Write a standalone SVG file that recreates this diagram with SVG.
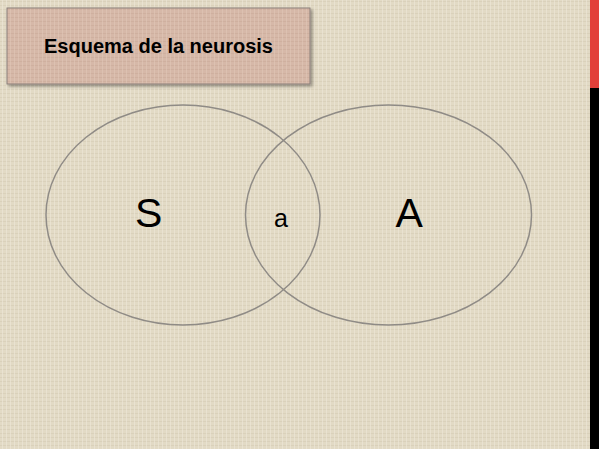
<svg xmlns="http://www.w3.org/2000/svg" width="599" height="449" viewBox="0 0 599 449">
  <defs>
    <pattern id="weave" width="4" height="4" patternUnits="userSpaceOnUse">
      <rect width="4" height="4" fill="#e2dac5"/>
      <rect x="0" y="1" width="4" height="1" fill="#d6ccb4" opacity="0.6"/>
      <rect x="2" y="0" width="1" height="4" fill="#efe8d8" opacity="0.6"/>
    </pattern>
    <pattern id="weave2" width="4" height="4" patternUnits="userSpaceOnUse">
      <rect width="4" height="4" fill="#d6b8a8"/>
      <rect x="0" y="1" width="4" height="1" fill="#c9aa9a" opacity="0.6"/>
      <rect x="2" y="0" width="1" height="4" fill="#e0c6b8" opacity="0.6"/>
    </pattern>
    <filter id="shadow" x="-10%" y="-10%" width="130%" height="140%">
      <feDropShadow dx="2" dy="2" stdDeviation="1.5" flood-color="#000" flood-opacity="0.35"/>
    </filter>
  </defs>
  <style>
    .ring { fill: none; stroke: #8f8b86; stroke-width: 1.5; }
    .lbl { font-family: "Liberation Sans", Arial, sans-serif; fill: #000; }
  </style>
  <rect width="599" height="449" fill="url(#weave)"/>
  <rect x="590" y="0" width="9" height="88" fill="#e2403a"/>
  <rect x="590" y="88" width="9" height="361" fill="#000"/>
  <g id="title">
    <rect x="7" y="8" width="303" height="76" fill="url(#weave2)" stroke="#8a7f78" stroke-width="1" filter="url(#shadow)"/>
    <text class="lbl" x="44" y="53" font-size="20" font-weight="bold">Esquema de la neurosis</text>
  </g>
  <g id="connectors"></g>
  <g id="set-S">
    <ellipse class="ring" cx="183" cy="215" rx="137" ry="110"/>
    <text class="lbl" x="135" y="227" font-size="41">S</text>
  </g>
  <g id="set-A">
    <ellipse class="ring" cx="388.5" cy="215" rx="143" ry="110"/>
    <text class="lbl" x="395.5" y="227" font-size="41">A</text>
  </g>
  <g id="intersection">
    <text class="lbl" x="274" y="227" font-size="25">a</text>
  </g>
</svg>
